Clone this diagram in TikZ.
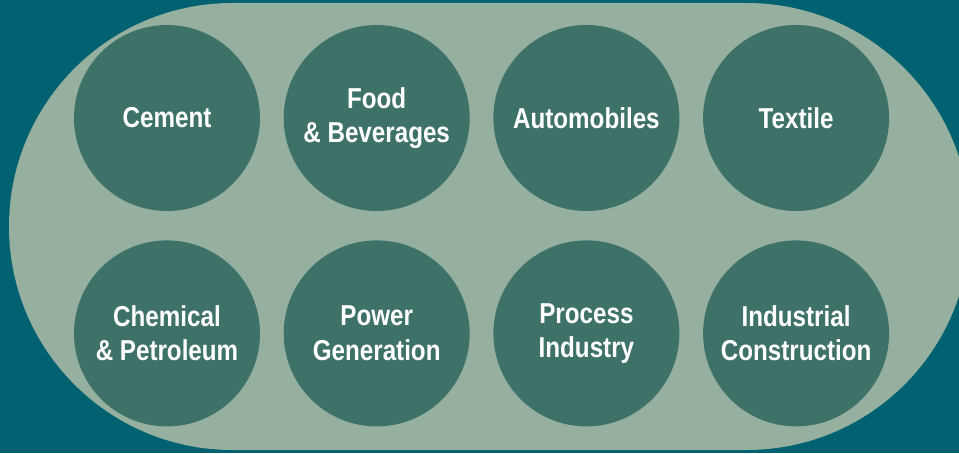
\documentclass[tikz,border=0pt]{standalone}
\usepackage{fontspec}
\newfontfamily\tagfont[FakeStretch=0.84]{Liberation Sans}
\usetikzlibrary{positioning}
\definecolor{bgteal}{RGB}{0,98,112}
\definecolor{pillsage}{RGB}{150,176,160}
\definecolor{dotgreen}{RGB}{62,114,104}

\begin{document}
\begin{tikzpicture}[x=1pt, y=1pt,
    sector/.style={circle, fill=dotgreen, minimum size=186pt, inner sep=0pt,
                   align=center, text=white,
                   font=\tagfont\bfseries\fontsize{28.8}{34.6}\selectfont},
    node distance=29pt and 23.3pt
]
\fill[bgteal] (0,0) rectangle (959,453);
\useasboundingbox (0,0) rectangle (959,453);
\begin{scope}
  \clip (0,0) rectangle (959,453);
  \fill[pillsage, rounded corners=223.5pt] (9,3) rectangle (970,450);
\end{scope}

% top row
\node[sector] (cement) at (167,335) {Cement};
\node[sector, right=of cement] (food) {Food\\\& Beverages};
\node[sector, right=of food] (auto) {Automobiles};
\node[sector, right=of auto] (textile) {Textile};

% bottom row
\node[sector, below=of cement] (chem) {Chemical\\\& Petroleum};
\node[sector, right=of chem] (power) {Power\\Generation};
\node[sector, right=of power] (process) {Process\\Industry};
\node[sector, right=of process] (constr) {Industrial\\Construction};
\end{tikzpicture}
\end{document}
